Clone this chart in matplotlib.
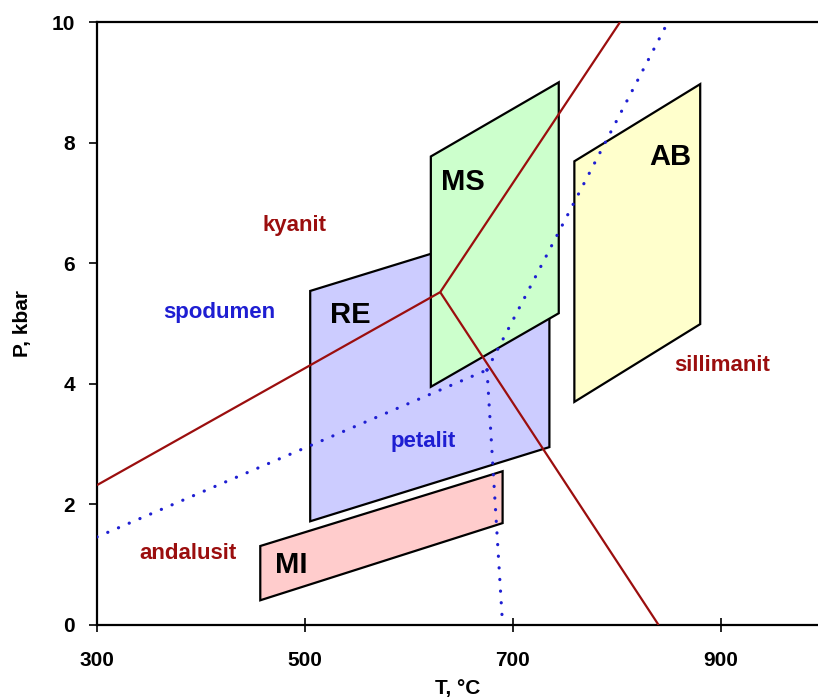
import matplotlib
matplotlib.use("Agg")
import matplotlib.pyplot as plt

plt.rcParams['font.family'] = ['Liberation Sans', 'DejaVu Sans']
plt.rcParams['font.weight'] = 'bold'

# ---- data ----
x_ticks = [300, 500, 700, 900]
y_ticks = [0, 2, 4, 6, 8, 10]

# fields (parallelograms)
RE_T = [505, 735, 735, 505]
RE_P = [1.72, 2.95, 6.76, 5.54]
MS_T = [621, 744, 744, 621]
MS_P = [3.95, 5.17, 9.00, 7.77]
AB_T = [759, 880, 880, 759]
AB_P = [3.70, 4.99, 8.97, 7.69]
MI_T = [457, 690, 690, 457]
MI_P = [0.41, 1.69, 2.55, 1.31]

# Al2SiO5 reaction lines
ky_and_T = [300, 630]
ky_and_P = [2.32, 5.52]
ky_sil_T = [630, 803]
ky_sil_P = [5.52, 10.0]
and_sil_T = [630, 840]
and_sil_P = [5.52, 0.0]

# Li-aluminosilicate reaction lines (dotted)
spd_pet_T = [300, 675]
spd_pet_P = [1.46, 4.23]
upper_T = [675, 849]
upper_P = [4.23, 10.0]
lower_T = [675, 690]
lower_P = [4.23, 0.0]

field_names = ['RE', 'MS', 'AB', 'MI']
mineral_labels = ['kyanit', 'spodumen', 'sillimanit', 'petalit', 'andalusit']

RED = '#9B0E0E'
BLUE = '#1E1ED2'

fig = plt.figure(figsize=(8.18, 6.97), dpi=100)
W, H = 818, 697
ax = fig.add_axes([97 / W, (H - 625) / H, (818 - 97) / W, (625 - 22) / H])
ax.set_xlim(300, 300 + (818 - 97) / 1.04)
ax.set_ylim(0, 10)

polys = [(RE_T, RE_P, '#CCCCFF'), (MS_T, MS_P, '#CCFFCC'),
         (AB_T, AB_P, '#FFFFCC'), (MI_T, MI_P, '#FFCCCC')]
for i, (t, p, c) in enumerate(polys):
    ax.fill(t, p, facecolor=c, edgecolor='black', linewidth=1.6, zorder=2 + i * 0.1)

for t, p in [(ky_and_T, ky_and_P), (ky_sil_T, ky_sil_P), (and_sil_T, and_sil_P)]:
    ax.plot(t, p, color=RED, linewidth=1.6, zorder=4, solid_capstyle='butt')

for t, p in [(spd_pet_T, spd_pet_P), (upper_T, upper_P), (lower_T, lower_P)]:
    ax.plot(t, p, color=BLUE, linewidth=2.3, linestyle=(0, (0.05, 3.6)), zorder=4,
            dash_capstyle='round')

big = dict(fontsize=21, fontweight='bold', color='black', ha='center', va='center', zorder=6)
ax.text(544, 5.14, field_names[0], **big)
ax.text(652, 7.35, field_names[1], **big)
ax.text(851, 7.76, field_names[2], **big)
ax.text(486.5, 1.0, field_names[3], **big)

small = dict(fontsize=16, fontweight='bold', ha='center', va='center', zorder=6)
ax.text(489.5, 6.62, mineral_labels[0], color=RED, **small)
ax.text(417.5, 5.19, mineral_labels[1], color=BLUE, **small)
ax.text(901, 4.31, mineral_labels[2], color=RED, **small)
ax.text(613.5, 3.05, mineral_labels[3], color=BLUE, **small)
ax.text(387.5, 1.18, mineral_labels[4], color=RED, **small)

ax.set_xticks(x_ticks)
ax.set_yticks(y_ticks)
ax.tick_params(axis='x', direction='inout', length=10, width=1.2, pad=14, labelsize=15)
ax.tick_params(axis='y', direction='out', length=6, width=1.2, pad=10, labelsize=15)
for lab in ax.get_xticklabels() + ax.get_yticklabels():
    lab.set_fontweight('bold')

for s in ['left', 'bottom', 'top']:
    ax.spines[s].set_linewidth(1.6)
ax.spines['right'].set_visible(False)

ax.set_xlabel('T, °C', fontsize=15, fontweight='bold', labelpad=6)
ax.set_ylabel('P, kbar', fontsize=15, fontweight='bold', labelpad=14)

fig.savefig('out.png', dpi=100)
